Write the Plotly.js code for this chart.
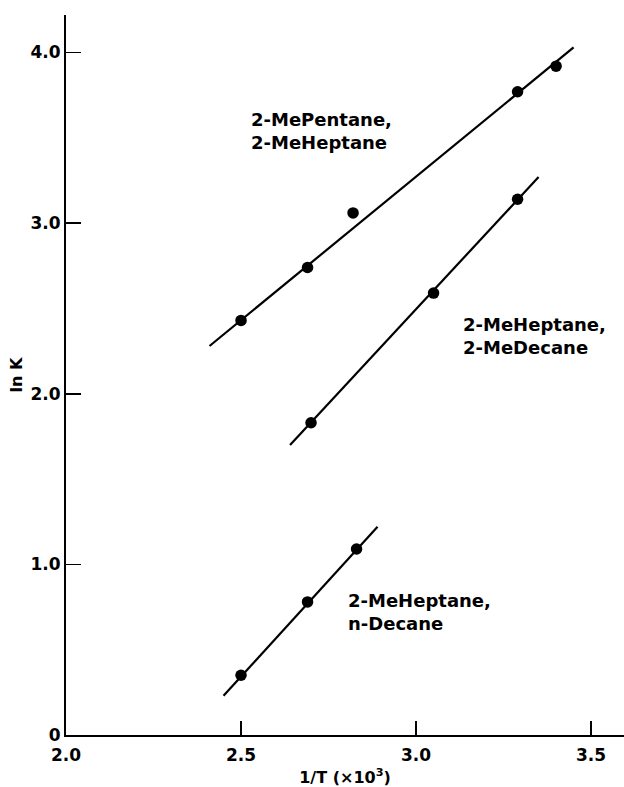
<!DOCTYPE html>
<html>
<head>
<meta charset="utf-8">
<script src="https://cdn.plot.ly/plotly-3.0.1.min.js"></script>
<style>html,body{margin:0;padding:0;background:#fff;}</style>
</head>
<body>
<div id="chart" style="width:624px;height:787px;"></div>
<script>
// Series 1: 2-MePentane, 2-MeHeptane
const s1X = [2.50, 2.69, 2.82, 3.29, 3.40];
const s1Y = [2.43, 2.74, 3.06, 3.77, 3.92];
const s1FitX = [2.41, 3.45];
const s1FitY = [2.28, 4.03];
// Series 2: 2-MeHeptane, 2-MeDecane
const s2X = [2.70, 3.05, 3.29];
const s2Y = [1.83, 2.59, 3.14];
const s2FitX = [2.64, 3.35];
const s2FitY = [1.70, 3.27];
// Series 3: 2-MeHeptane, n-Decane
const s3X = [2.50, 2.69, 2.83];
const s3Y = [0.35, 0.78, 1.09];
const s3FitX = [2.45, 2.89];
const s3FitY = [0.23, 1.22];

const labels = ["2-MePentane,<br>2-MeHeptane", "2-MeHeptane,<br>2-MeDecane", "2-MeHeptane,<br>n-Decane"];
const labelX = [2.523, 3.129, 2.80];
const labelY = [3.54, 2.34, 0.72];

const xTickVals = [2.0, 2.5, 3.0, 3.5];
const xTickText = ["2.0", "2.5", "3.0", "3.5"];
const yTickVals = [0, 1, 2, 3, 4];
const yTickText = ["0", "1.0", "2.0", "3.0", "4.0"];

const FONT = "DejaVu Sans, Arial, sans-serif";
const lineStyle = {color: "black", width: 2.2};
const markerStyle = {color: "black", size: 11.5};

const traces = [];
[[s1FitX, s1FitY, s1X, s1Y], [s2FitX, s2FitY, s2X, s2Y], [s3FitX, s3FitY, s3X, s3Y]].forEach(([fx, fy, px, py]) => {
  traces.push({x: fx, y: fy, mode: "lines", line: lineStyle, hoverinfo: "skip", showlegend: false});
  traces.push({x: px, y: py, mode: "markers", marker: markerStyle, showlegend: false});
});

const annotations = labels.map((t, i) => ({
  text: t, x: labelX[i], y: labelY[i], xref: "x", yref: "y",
  xanchor: "left", yanchor: "middle", align: "left", showarrow: false,
  font: {family: FONT, size: 18, color: "black", weight: "bold"}
}));

const layout = {
  width: 624, height: 787,
  margin: {l: 66, r: 0, t: 15, b: 52},
  paper_bgcolor: "white", plot_bgcolor: "white",
  showlegend: false,
  xaxis: {
    range: [2.0, 3.594], showgrid: false, zeroline: false,
    showline: true, linecolor: "black", linewidth: 2,
    ticks: "inside", ticklen: 14, tickwidth: 1.5, tickcolor: "black",
    tickvals: xTickVals, ticktext: xTickText, ticklabelstandoff: 4,
    tickfont: {family: FONT, size: 17, color: "black", weight: "bold"},
    title: {text: "1/T (×10<sup>3</sup>)", font: {family: FONT, size: 16, color: "black", weight: "bold"}, standoff: 8}
  },
  yaxis: {
    range: [0, 4.22], showgrid: false, zeroline: false,
    showline: true, linecolor: "black", linewidth: 2,
    ticks: "inside", ticklen: 15, tickwidth: 1.5, tickcolor: "black",
    tickvals: yTickVals, ticktext: yTickText,
    tickfont: {family: FONT, size: 17, color: "black", weight: "bold"},
    title: {text: "ln K", font: {family: FONT, size: 16, color: "black", weight: "bold"}, standoff: 4}
  },
  annotations: annotations
};

Plotly.newPlot("chart", traces, layout, {staticPlot: true, displayModeBar: false});
</script>
</body>
</html>
